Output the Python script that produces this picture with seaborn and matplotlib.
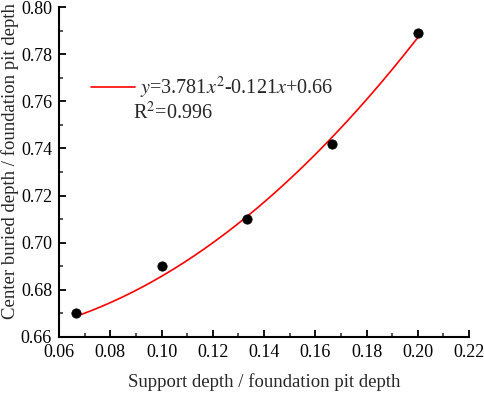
import matplotlib
matplotlib.use('Agg')
import matplotlib.pyplot as plt
import seaborn as sns
import numpy as np
import pandas as pd

# measured points
ratio_support = [0.0667, 0.1, 0.1333, 0.1667, 0.2]
ratio_center = [0.670, 0.690, 0.710, 0.742, 0.789]

# quadratic fit coefficients (a, b, c) shown in legend
fit_coef = [3.781, -0.121, 0.66]
r2 = 0.996

x_ticks = [0.06, 0.08, 0.10, 0.12, 0.14, 0.16, 0.18, 0.20, 0.22]
y_ticks = [0.66, 0.68, 0.70, 0.72, 0.74, 0.76, 0.78, 0.80]

sns.set_style('ticks')
plt.rcParams['font.family'] = ['Liberation Serif', 'DejaVu Serif']
plt.rcParams['mathtext.fontset'] = 'stix'

fig = plt.figure(figsize=(4.84, 3.94), dpi=100)
ax = fig.add_axes([0.122, 0.145, 0.847, 0.837])

xs = np.linspace(min(ratio_support), max(ratio_support), 200)
fit_df = pd.DataFrame({'x': xs, 'y': np.polyval(fit_coef, xs)})
sns.lineplot(data=fit_df, x='x', y='y', color='#ff0000', linewidth=1.2, ax=ax,
             label='$y$=3.781$x^2$-0.121$x$+0.66')

pts = pd.DataFrame({'x': ratio_support, 'y': ratio_center})
sns.scatterplot(data=pts, x='x', y='y', color='black', s=45, edgecolor='black',
                zorder=3, ax=ax)

ax.set_xlim(0.06, 0.22)
ax.set_ylim(0.66, 0.80)
ax.set_xticks(x_ticks)
ax.set_yticks(y_ticks)
ax.set_xticklabels([f'{v:.2f}' for v in x_ticks])
ax.set_yticklabels([f'{v:.2f}' for v in y_ticks])
ax.set_xticks(np.arange(0.07, 0.22, 0.02), minor=True)
ax.set_yticks(np.arange(0.67, 0.80, 0.02), minor=True)
ax.tick_params(which='major', direction='in', length=5, width=1.3, labelsize=13,
               colors='black', pad=5)
ax.tick_params(which='minor', direction='in', length=3, width=1.1)

for side in ['top', 'right']:
    ax.spines[side].set_visible(False)
for side in ['left', 'bottom']:
    ax.spines[side].set_linewidth(1.5)
    ax.spines[side].set_color('black')

ax.set_xlabel('Support depth / foundation pit depth', fontsize=13.5)
ax.set_ylabel('Center buried depth / foundation pit depth', fontsize=13.5)
ax.xaxis.set_label_coords(0.5, -0.137)
ax.yaxis.set_label_coords(-0.12, 0.533)
ax.xaxis.label.set_va('center')
ax.yaxis.label.set_va('center')

leg = ax.legend(loc='center left', bbox_to_anchor=(0.078, 0.755), frameon=False,
                fontsize=14.5, handlelength=2.2, handletextpad=0.25,
                borderaxespad=0, borderpad=0)
ax.text(0.18, 0.679, f'R$^2$={r2}', transform=ax.transAxes, fontsize=14.5,
        ha='left', va='center')

fig.savefig('out.png', dpi=100)
